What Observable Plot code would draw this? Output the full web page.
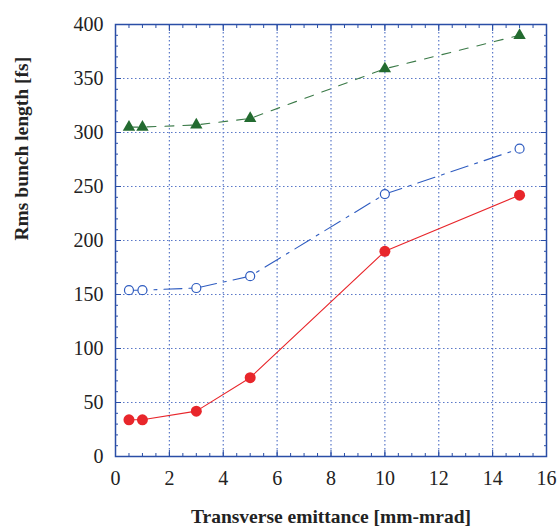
<!DOCTYPE html>
<html>
<head>
<meta charset="utf-8">
<script src="https://cdn.jsdelivr.net/npm/d3@7"></script>
<script src="https://cdn.jsdelivr.net/npm/@observablehq/plot@0.6"></script>
<style>
  html, body { margin: 0; padding: 0; background: #fff; }
</style>
</head>
<body>
<div id="chart"></div>
<script>
const emittance = [0.5, 1, 3, 5, 10, 15];
const redValues = [34, 34, 42, 73, 190, 242];
const blueValues = [154, 154, 156, 167, 243, 285];
const greenValues = [305, 305, 307, 313, 359, 390];
const xTicks = [0, 2, 4, 6, 8, 10, 12, 14, 16];
const yTicks = [0, 50, 100, 150, 200, 250, 300, 350, 400];
const xMinor = d3.range(0, 16.001, 0.5);
const yMinor = d3.range(0, 400.001, 10);
const xLabel = "Transverse emittance [mm-mrad]";
const yLabel = "Rms bunch length [fs]";

const mk = (vals) => emittance.map((x, i) => ({x, y: vals[i]}));
const red = mk(redValues), blue = mk(blueValues), green = mk(greenValues);

const frameColor = "#2a4ea6";
const gridColor = "#5a78c8";
const F = "serif";

const chart = Plot.plot({
  width: 558,
  height: 530,
  marginLeft: 115,
  marginRight: 12,
  marginTop: 24,
  marginBottom: 74,
  style: {background: "#fff", fontFamily: F},
  x: {domain: [0, 16]},
  y: {domain: [0, 400]},
  marks: [
    Plot.gridX(xTicks.slice(1, -1), {stroke: gridColor, strokeOpacity: 1, strokeWidth: 1.2, strokeDasharray: "1.5,2.5"}),
    Plot.gridY(yTicks.slice(1, -1), {stroke: gridColor, strokeOpacity: 1, strokeWidth: 1.2, strokeDasharray: "1.5,2.5"}),
    Plot.axisX(xMinor, {anchor: "bottom", tickSize: -3, text: null, label: null, stroke: frameColor}),
    Plot.axisX(xMinor, {anchor: "top", tickSize: -3, text: null, label: null, stroke: frameColor}),
    Plot.axisY(yMinor, {anchor: "left", tickSize: -3, text: null, label: null, stroke: frameColor}),
    Plot.axisY(yMinor, {anchor: "right", tickSize: -3, text: null, label: null, stroke: frameColor}),
    Plot.axisX(xTicks, {anchor: "bottom", tickSize: -6, text: null, label: null, stroke: frameColor}),
    Plot.axisX(xTicks, {anchor: "top", tickSize: -6, text: null, label: null, stroke: frameColor}),
    Plot.axisY(yTicks, {anchor: "left", tickSize: -6, text: null, label: null, stroke: frameColor}),
    Plot.axisY(yTicks, {anchor: "right", tickSize: -6, text: null, label: null, stroke: frameColor}),
    Plot.axisX(xTicks, {anchor: "bottom", tickSize: 0, tickPadding: 14, fill: "#222", fontFamily: F, fontSize: 20, label: null}),
    Plot.axisY(yTicks, {anchor: "left", tickSize: 0, tickPadding: 12, fill: "#222", fontFamily: F, fontSize: 20, label: null}),
    Plot.text([xLabel], {frameAnchor: "bottom", dy: 66, fontFamily: F, fontSize: 19.5, fontWeight: "bold", fill: "#222"}),
    Plot.text([yLabel], {frameAnchor: "left", dx: -94, rotate: -90, fontFamily: F, fontSize: 19.5, fontWeight: "bold", fill: "#222"}),
    Plot.frame({stroke: frameColor, strokeWidth: 1.5}),
    Plot.line(green, {x: "x", y: "y", stroke: "#3b7a48", strokeWidth: 1.1, strokeDasharray: "9,9"}),
    Plot.line(blue, {x: "x", y: "y", stroke: "#2f5cc0", strokeWidth: 1.1, strokeDasharray: "18,7,3,7"}),
    Plot.line(red, {x: "x", y: "y", stroke: "#e8262b", strokeWidth: 1.1}),
    Plot.dot(green, {x: "x", y: "y", symbol: "triangle", r: 4.6, fill: "#236b30", stroke: "none"}),
    Plot.dot(blue, {x: "x", y: "y", r: 4.5, fill: "white", stroke: "#2f5cc0", strokeWidth: 1.2}),
    Plot.dot(red, {x: "x", y: "y", r: 5.5, fill: "#e8262b", stroke: "none"})
  ]
});
document.getElementById("chart").appendChild(chart);
</script>
</body>
</html>
